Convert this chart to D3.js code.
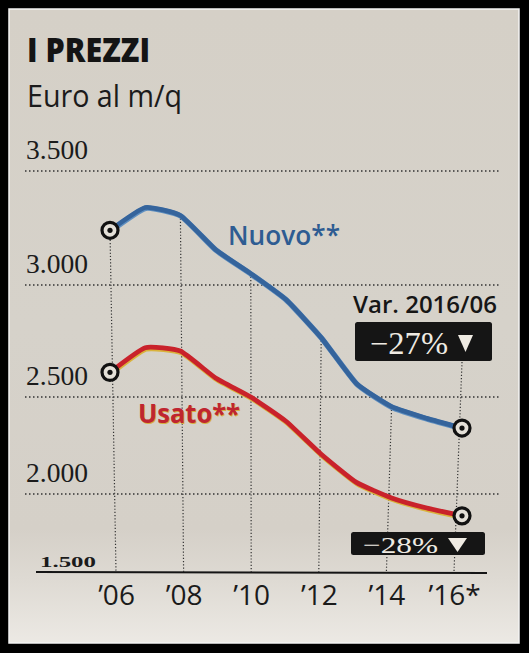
<!DOCTYPE html>
<html>
<head>
<meta charset="utf-8">
<script src="https://cdn.jsdelivr.net/npm/d3@7"></script>
<style>
  html, body { margin: 0; padding: 0; background: #000; }
  svg { display: block; }
</style>
</head>
<body>
<script>
// ---------- DATA ----------
const years = [2006, 2007, 2008, 2009, 2010, 2011, 2012, 2013, 2014, 2015, 2016];
const nuovo = [3240, 3340, 3305, 3155, 3050, 2935, 2765, 2560, 2450, 2390, 2340];
const usato = [2610, 2720, 2705, 2585, 2500, 2375, 2205, 2060, 1975, 1910, 1860];
const yTicks = [3500, 3000, 2500, 2000];
const yTickLabels = ["3.500", "3.000", "2.500", "2.000"];
const yBase = 1500;
const yBaseLabel = "1.500";
const xTickYears = [2006, 2008, 2010, 2012, 2014, 2016];
const xTickLabels = ["’06", "’08", "’10", "’12", "’14", "’16*"];
const seriesNames = ["Nuovo**", "Usato**"];
const variations = ["−27%", "−28%"];
const title = "I PREZZI";
const subtitle = "Euro al m/q";
const varTitle = "Var. 2016/06";

// ---------- SETUP ----------
const W = 529, H = 653;
const svg = d3.select("body").append("svg").attr("width", W).attr("height", H);

const defs = svg.append("defs");
const grad = defs.append("linearGradient").attr("id", "paper")
  .attr("x1", 0).attr("y1", 0).attr("x2", 0).attr("y2", 1);
[[0, "#d5d0c7"], [0.5, "#d6d2ca"], [0.82, "#d5d0c8"], [0.9, "#dedad3"], [1, "#ece9e4"]]
  .forEach(([o, c]) => grad.append("stop").attr("offset", o).attr("stop-color", c));

// frame
svg.append("rect").attr("width", W).attr("height", H).attr("fill", "#000");
svg.append("rect").attr("x", 9).attr("y", 9).attr("width", 510).attr("height", 634)
  .attr("fill", "url(#paper)").attr("stroke", "#f4f4f4").attr("stroke-width", 1.5);

// scales (photo perspective: y spacing compresses toward the bottom)
const y = d3.scaleLinear().domain([1500, 2000, 2500, 3000, 3500]).range([572, 494, 397, 285, 171]);
const x = d3.scaleLinear().domain([2006, 2016]).range([110, 462]);
const xb = d3.scaleLinear().domain([2006, 2016]).range([116, 454]); // positions at the baseline

const ink = "#1b1b1b";

// ---------- TITLES ----------
svg.append("text").attr("x", 27).attr("y", 62).text(title)
  .attr("font-family", "Open Sans").attr("font-weight", 800).attr("font-size", 34)
  .attr("textLength", 123).attr("lengthAdjust", "spacingAndGlyphs").attr("fill", "#141414");
svg.append("text").attr("x", 27).attr("y", 107).text(subtitle)
  .attr("font-family", "Open Sans").attr("font-weight", 400).attr("font-size", 31)
  .attr("textLength", 155).attr("lengthAdjust", "spacingAndGlyphs").attr("fill", ink);

// ---------- GRID ----------
const grid = svg.append("g").attr("stroke", "#333").attr("stroke-width", 1.5)
  .attr("stroke-dasharray", "1.5 2.5").attr("fill", "none");
grid.selectAll("line.h").data(yTicks).join("line").attr("class", "h")
  .attr("x1", 25).attr("x2", 500).attr("y1", d => y(d)).attr("y2", d => y(d));

// vertical dotted lines from the Nuovo line down to the baseline
grid.selectAll("line.v").data(xTickYears).join("line").attr("class", "v")
  .attr("stroke-width", 1.2).attr("stroke-dasharray", "1.2 2")
  .attr("x1", d => x(d))
  .attr("y1", d => d === 2016 ? 362 : y(nuovo[years.indexOf(d)]))
  .attr("x2", d => xb(d)).attr("y2", y(yBase));

// y labels
svg.append("g").selectAll("text").data(yTicks).join("text")
  .attr("x", 26).attr("y", d => y(d) - 12)
  .text((d, i) => yTickLabels[i])
  .attr("font-family", "Liberation Serif").attr("font-size", 27)
  .attr("textLength", 62).attr("lengthAdjust", "spacingAndGlyphs").attr("fill", ink);
svg.append("text").attr("x", 40).attr("y", y(yBase) - 5).text(yBaseLabel)
  .attr("font-family", "Liberation Serif").attr("font-size", 15).attr("font-weight", 700)
  .attr("textLength", 56).attr("lengthAdjust", "spacingAndGlyphs").attr("fill", ink);

// baseline
svg.append("line").attr("x1", 36).attr("x2", 487).attr("y1", y(yBase)).attr("y2", y(yBase) + 1)
  .attr("stroke", "#151515").attr("stroke-width", 2);

// x axis labels
const xAxis = d3.axisBottom(xb).tickValues(xTickYears).tickSize(0).tickPadding(13)
  .tickFormat((d, i) => xTickLabels[i]);
const gx = svg.append("g").attr("transform", `translate(0,${y(yBase)})`).call(xAxis);
gx.select(".domain").remove();
gx.selectAll("text").attr("font-family", "Open Sans").attr("font-size", 28)
  .attr("fill", ink);

// ---------- LINES ----------
const line = d3.line().x((d, i) => x(years[i])).y(d => y(d)).curve(d3.curveCardinal.tension(0.55));

svg.append("path").datum(nuovo).attr("d", line).attr("fill", "none")
  .attr("stroke", "#5f8fc0").attr("stroke-width", 5.5).attr("stroke-linejoin", "round")
  .attr("transform", "translate(0.6,0.8)");
svg.append("path").datum(nuovo).attr("d", line).attr("fill", "none")
  .attr("stroke", "#35649c").attr("stroke-width", 4.8).attr("stroke-linejoin", "round");

svg.append("path").datum(usato).attr("d", line).attr("fill", "none")
  .attr("stroke", "#d9b33c").attr("stroke-width", 4.8).attr("stroke-linejoin", "round")
  .attr("transform", "translate(0.8,1.6)");
svg.append("path").datum(usato).attr("d", line).attr("fill", "none")
  .attr("stroke", "#c9222b").attr("stroke-width", 4.8).attr("stroke-linejoin", "round");

// end markers
const ends = [
  [years[0], nuovo[0]], [years[10], nuovo[10]],
  [years[0], usato[0]], [years[10], usato[10]]
];
const mk = svg.append("g").selectAll("g").data(ends).join("g")
  .attr("transform", d => `translate(${x(d[0])},${y(d[1])})`);
mk.append("circle").attr("r", 8).attr("fill", "#e4e0d8").attr("stroke", "#111").attr("stroke-width", 3.2);
mk.append("circle").attr("r", 2.6).attr("fill", "#111");

// series labels
svg.append("text").attr("x", 228).attr("y", 245).text(seriesNames[0])
  .attr("font-family", "Open Sans").attr("font-weight", 600).attr("font-size", 27)
  .attr("textLength", 112).attr("lengthAdjust", "spacingAndGlyphs").attr("fill", "#2e5c92");
svg.append("text").attr("x", 139).attr("y", 424).text(seriesNames[1])
  .attr("font-family", "Open Sans").attr("font-weight", 700).attr("font-size", 27)
  .attr("textLength", 102).attr("lengthAdjust", "spacingAndGlyphs").attr("fill", "#d6b040");
svg.append("text").attr("x", 138).attr("y", 423).text(seriesNames[1])
  .attr("font-family", "Open Sans").attr("font-weight", 700).attr("font-size", 27)
  .attr("textLength", 102).attr("lengthAdjust", "spacingAndGlyphs").attr("fill", "#bf2530");

// ---------- VARIATION ANNOTATIONS ----------
svg.append("text").attr("x", 353).attr("y", 313).text(varTitle)
  .attr("font-family", "Open Sans").attr("font-weight", 600).attr("font-size", 23)
  .attr("textLength", 144).attr("lengthAdjust", "spacingAndGlyphs").attr("fill", "#161616");

function badge(bx, by, bw, bh, label, fs, tx, ty, tl, tri) {
  const g = svg.append("g");
  g.append("rect").attr("x", bx).attr("y", by).attr("width", bw).attr("height", bh)
    .attr("rx", 2.5).attr("fill", "#151515");
  g.append("text").attr("x", tx).attr("y", ty).text(label)
    .attr("font-family", "Liberation Serif").attr("font-size", fs)
    .attr("textLength", tl).attr("lengthAdjust", "spacingAndGlyphs").attr("fill", "#efebe3");
  g.append("path").attr("d", `M${tri[0]},${tri[1]}L${tri[2]},${tri[1]}L${(tri[0] + tri[2]) / 2},${tri[3]}Z`)
    .attr("fill", "#efebe3");
}
const xe = x(2016);
badge(xe - 107, 322, 137, 39, variations[0], 31, xe - 92, 354, 78, [xe - 4, 335, xe + 11, 352]);
badge(xe - 111, 532, 134, 23, variations[1], 24, xe - 99, 553, 75, [xe - 14, 538, xe + 5, 552]);
</script>
</body>
</html>
